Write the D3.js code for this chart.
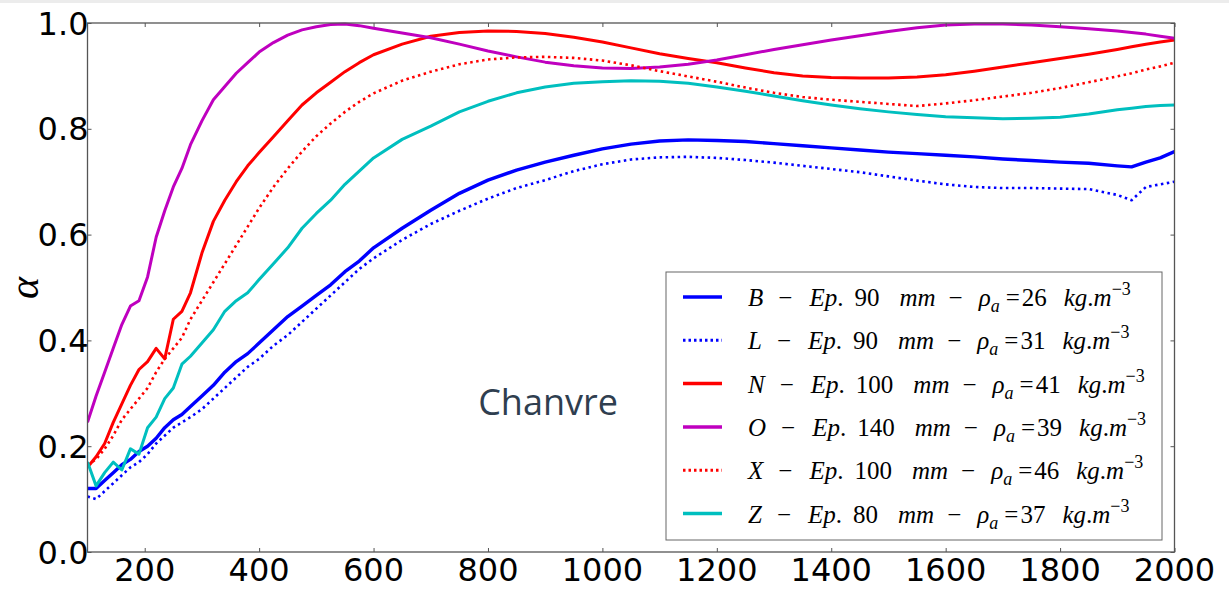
<!DOCTYPE html>
<html>
<head>
<meta charset="utf-8">
<script src="https://cdn.jsdelivr.net/npm/d3@7"></script>
<style>
  html, body { margin: 0; padding: 0; background: #fff; }
  svg { display: block; }
</style>
</head>
<body>
<svg id="chart" width="1229" height="598"></svg>
<script>
// ---------------- data ----------------
const freq = [100,115,130,145,160,175,190,205,220,235,250,265,280,300,320,340,360,380,400,425,450,475,500,525,550,575,600,650,700,750,800,850,900,950,1000,1050,1100,1150,1200,1250,1300,1350,1400,1450,1500,1550,1600,1650,1700,1750,1800,1850,1900,1925,1950,1975,2000];

const alphaB = [0.12,0.12,0.135,0.15,0.165,0.175,0.19,0.2,0.215,0.235,0.25,0.26,0.275,0.295,0.315,0.34,0.36,0.375,0.395,0.42,0.445,0.465,0.485,0.505,0.53,0.55,0.575,0.612,0.646,0.678,0.703,0.722,0.737,0.75,0.762,0.771,0.777,0.779,0.778,0.776,0.772,0.768,0.764,0.76,0.756,0.753,0.75,0.747,0.743,0.74,0.737,0.735,0.73,0.728,0.737,0.745,0.757];
const alphaL = [0.105,0.1,0.115,0.13,0.145,0.16,0.17,0.185,0.205,0.22,0.235,0.245,0.255,0.27,0.29,0.31,0.33,0.35,0.365,0.39,0.41,0.435,0.46,0.485,0.51,0.535,0.555,0.59,0.62,0.645,0.668,0.688,0.703,0.72,0.733,0.742,0.746,0.747,0.745,0.741,0.736,0.73,0.724,0.718,0.71,0.702,0.695,0.69,0.688,0.688,0.687,0.686,0.675,0.665,0.69,0.695,0.70];
const alphaN = [0.16,0.18,0.205,0.245,0.28,0.315,0.345,0.36,0.385,0.365,0.44,0.455,0.49,0.565,0.625,0.665,0.70,0.73,0.755,0.785,0.815,0.845,0.868,0.888,0.908,0.925,0.94,0.96,0.975,0.982,0.985,0.984,0.98,0.973,0.964,0.953,0.942,0.933,0.925,0.915,0.906,0.90,0.897,0.896,0.896,0.898,0.902,0.909,0.917,0.925,0.933,0.941,0.95,0.955,0.96,0.964,0.968];
const alphaO = [0.245,0.295,0.34,0.385,0.43,0.465,0.475,0.52,0.595,0.645,0.69,0.725,0.77,0.815,0.855,0.88,0.905,0.925,0.945,0.963,0.977,0.987,0.993,0.997,0.998,0.995,0.99,0.981,0.972,0.96,0.947,0.936,0.926,0.919,0.915,0.914,0.917,0.922,0.93,0.94,0.95,0.959,0.968,0.976,0.984,0.991,0.996,0.998,0.998,0.996,0.993,0.989,0.985,0.982,0.979,0.975,0.971];
const alphaX = [0.165,0.175,0.195,0.22,0.25,0.27,0.29,0.31,0.34,0.365,0.385,0.405,0.44,0.475,0.51,0.545,0.58,0.615,0.65,0.69,0.725,0.757,0.786,0.81,0.832,0.851,0.867,0.891,0.908,0.922,0.931,0.935,0.936,0.934,0.929,0.92,0.909,0.899,0.889,0.878,0.868,0.86,0.855,0.851,0.847,0.843,0.848,0.854,0.861,0.868,0.877,0.888,0.899,0.905,0.912,0.918,0.925];
const alphaZ = [0.17,0.125,0.15,0.17,0.155,0.195,0.185,0.235,0.255,0.29,0.31,0.355,0.37,0.395,0.42,0.455,0.475,0.49,0.515,0.545,0.575,0.612,0.64,0.665,0.695,0.72,0.745,0.78,0.805,0.832,0.852,0.868,0.879,0.886,0.889,0.891,0.89,0.886,0.879,0.871,0.862,0.853,0.845,0.838,0.832,0.827,0.823,0.821,0.819,0.82,0.822,0.828,0.836,0.839,0.842,0.844,0.845];

const seriesNames = ["B","L","N","O","X","Z"];
const thickness = [90,90,100,140,100,80];
const density = [26,31,41,39,46,37];
const xTicks = [200,400,600,800,1000,1200,1400,1600,1800,2000];
const yTicks = [0.0,0.2,0.4,0.6,0.8,1.0];
const annotation = "Chanvre";

// ---------------- styles ----------------
const seriesData = [alphaB, alphaL, alphaN, alphaO, alphaX, alphaZ];
const colors = ["#0000ff","#0000ff","#ff0000","#bf00bf","#ff0000","#00bfbf"];
const dotted = [false,true,false,false,true,false];
const widths = [3.4,2.6,3,3,2.6,3];

const svg = d3.select("#chart");
svg.append("rect").attr("x",0).attr("y",0).attr("width",1229).attr("height",3).attr("fill","#ececec");

const L = 87.5, R = 1174.5, T = 23, B = 552;
const x = d3.scaleLinear().domain([100,2000]).range([L,R]);
const y = d3.scaleLinear().domain([0,1]).range([B,T]);

svg.append("defs").append("clipPath").attr("id","clip")
  .append("rect").attr("x",L).attr("y",T-2).attr("width",R-L).attr("height",B-T+2);

const plot = svg.append("g").attr("clip-path","url(#clip)");
const line = d3.line().x((d,i)=>x(freq[i])).y(d=>y(d));

seriesData.forEach((s,k)=>{
  plot.append("path")
    .attr("d", line(s))
    .attr("fill","none")
    .attr("stroke", colors[k])
    .attr("stroke-width", widths[k])
    .attr("stroke-dasharray", dotted[k] ? "2.5,3.5" : null)
    .attr("stroke-linejoin","round");
});

// frame
const frameColor = "#555";
svg.append("rect").attr("x",L).attr("y",T).attr("width",R-L).attr("height",B-T)
  .attr("fill","none").attr("stroke",frameColor).attr("stroke-width",1.3);

// axes (inward ticks)
const tickStyle = g => {
  g.select(".domain").remove();
  g.selectAll(".tick line").attr("stroke",frameColor).attr("stroke-width",1);
  g.selectAll(".tick text").remove();
};
svg.append("g").attr("transform",`translate(0,${B})`)
  .call(d3.axisTop(x).tickValues(xTicks).tickSize(4)).call(tickStyle);
svg.append("g").attr("transform",`translate(0,${T})`)
  .call(d3.axisBottom(x).tickValues(xTicks).tickSize(4)).call(tickStyle);
svg.append("g").attr("transform",`translate(${L},0)`)
  .call(d3.axisRight(y).tickValues(yTicks).tickSize(4)).call(tickStyle);
svg.append("g").attr("transform",`translate(${R},0)`)
  .call(d3.axisLeft(y).tickValues(yTicks).tickSize(4)).call(tickStyle);

// tick labels
const tickFont = "'DejaVu Sans', sans-serif";
svg.append("g").selectAll("text").data(xTicks).join("text")
  .attr("x", d=>x(d)).attr("y", B+29)
  .attr("text-anchor","middle")
  .style("font-family",tickFont).style("font-size","32px").attr("fill","#000")
  .text(d=>d);
svg.append("g").selectAll("text").data(yTicks).join("text")
  .attr("x", L+1).attr("y", d=>y(d)+11.5)
  .attr("text-anchor","end")
  .style("font-family",tickFont).style("font-size","32px").attr("fill","#000")
  .text(d=>d3.format(".1f")(d));

// y label
svg.append("text")
  .attr("transform","translate(38,288) rotate(-90)")
  .attr("text-anchor","middle")
  .style("font-family","'Liberation Serif', serif").style("font-style","italic")
  .style("font-size","42px").attr("fill","#000")
  .text("α");

// annotation
svg.append("text")
  .attr("x",548).attr("y",415).attr("text-anchor","middle")
  .style("font-family","'Open Sans', sans-serif").style("font-size","36px")
  .attr("fill","#2f3e4f")
  .text(annotation);

// legend
const lg = svg.append("g");
lg.append("rect").attr("x",666).attr("y",272).attr("width",496).attr("height",268)
  .attr("fill","#fff").attr("stroke","#666").attr("stroke-width",1);
const rowY = i => 297 + i*43.3;
seriesNames.forEach((nm,i)=>{
  lg.append("line").attr("x1",683).attr("x2",722).attr("y1",rowY(i)).attr("y2",rowY(i))
    .attr("stroke",colors[i]).attr("stroke-width",dotted[i]?3:3.5)
    .attr("stroke-dasharray", dotted[i] ? "2.5,3" : null);
  const t = lg.append("text").attr("x",748).attr("y",rowY(i)+9)
    .style("font-family","'Liberation Serif', serif").style("font-size","25px").attr("fill","#000");
  const it = (s,dx) => t.append("tspan").style("font-style","italic").attr("dx",dx||0).text(s);
  const rm = (s,dx) => t.append("tspan").attr("dx",dx||0).text(s);
  it(nm);
  rm("−",15);
  it("Ep",17);
  rm(".");
  rm(String(thickness[i]),11);
  it("mm",20);
  rm("−",13);
  it("ρ",16);
  t.append("tspan").style("font-style","italic").style("font-size","18px").attr("dy",6).text("a");
  rm("=",6).attr("dy",-6);
  rm(String(density[i]),2);
  it("kg",17);
  rm(".");
  it("m");
  t.append("tspan").style("font-size","18px").attr("dy",-11).text("−3");
});
</script>
</body>
</html>
